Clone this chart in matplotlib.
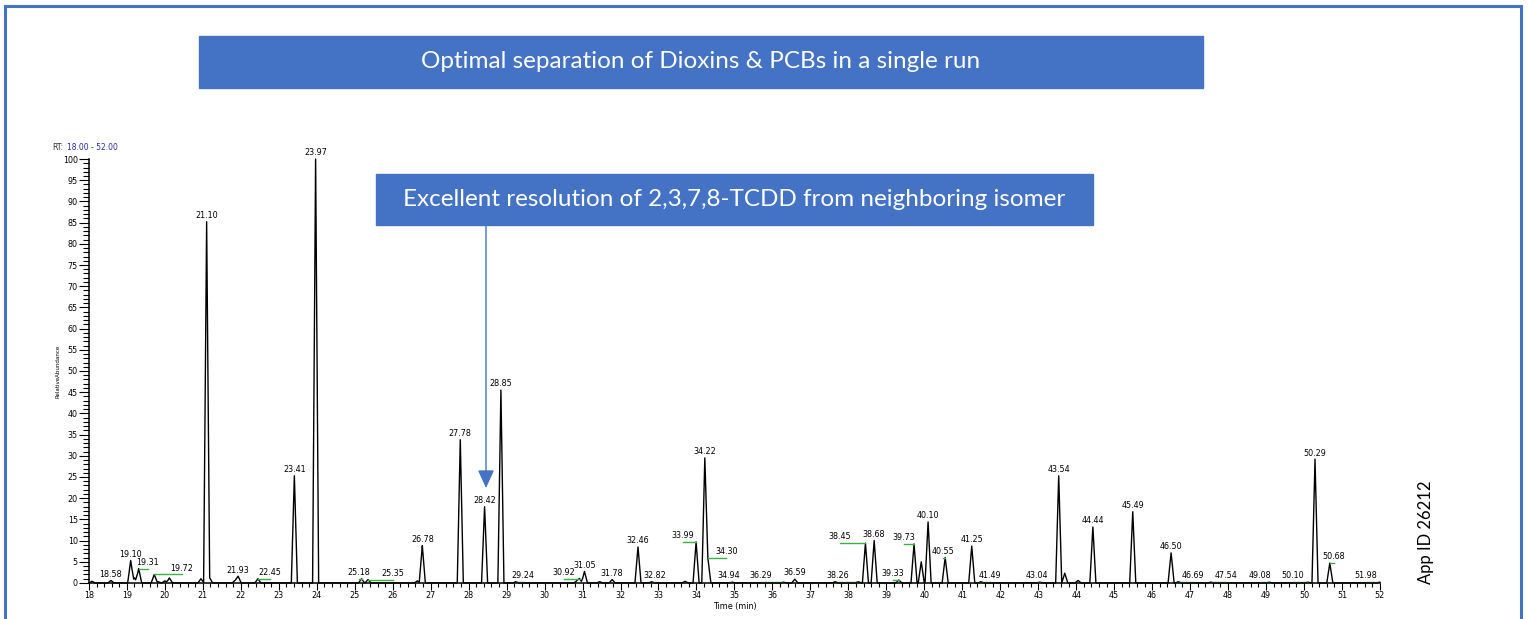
import numpy as np
import matplotlib
matplotlib.use("Agg")
import matplotlib.pyplot as plt
from matplotlib.patches import Rectangle
from matplotlib.ticker import MultipleLocator

# labelled peaks: retention time, relative abundance, x where the label sits
peak_rt = [18.58, 19.10, 19.31, 19.72, 21.10, 21.93, 22.45, 23.41, 23.97,
           25.18, 25.35, 26.78, 27.78, 28.42, 28.85, 29.24, 30.92, 31.05,
           31.78, 32.46, 32.82, 33.99, 34.22, 34.30, 34.94, 36.29, 36.59,
           38.26, 38.45, 38.68, 39.33, 39.73, 40.10, 40.55, 41.25, 41.49,
           43.04, 43.54, 44.44, 45.49, 46.50, 46.69, 47.54, 49.08, 50.10,
           50.29, 50.68, 51.98]
peak_h = [0.6, 5.3, 3.4, 2.0, 85.2, 1.6, 1.0, 25.3, 100.0,
          1.0, 0.8, 8.8, 33.8, 18.0, 45.5, 0.3, 1.0, 2.7,
          0.8, 8.5, 0.3, 9.7, 29.5, 5.9, 0.2, 0.2, 0.9,
          0.3, 9.4, 10.0, 0.7, 9.2, 14.4, 6.0, 8.7, 0.3,
          0.2, 25.3, 13.2, 16.8, 7.1, 0.3, 0.2, 0.2, 0.2,
          29.2, 4.7, 0.2]
label_x = [18.58, 19.10, 19.55, 20.44, 21.10, 21.91, 22.76, 23.41, 23.97,
           25.10, 26.00, 26.78, 27.78, 28.42, 28.85, 29.43, 30.51, 31.05,
           31.78, 32.46, 32.90, 33.64, 34.22, 34.79, 34.86, 35.70, 36.59,
           37.73, 37.78, 38.68, 39.17, 39.46, 40.10, 40.49, 41.25, 41.73,
           42.96, 43.54, 44.44, 45.49, 46.50, 47.08, 47.94, 48.84, 49.70,
           50.29, 50.79, 51.63]

# small unlabelled peaks
minor_rt = [18.08, 19.20, 19.82, 20.00, 20.12, 20.95, 21.18, 21.85, 26.65,
            30.85, 31.45, 33.70, 37.65, 39.92, 43.70, 44.05]
minor_h = [0.4, 1.2, 0.3, 0.5, 1.2, 1.0, 1.2, 0.6, 0.5,
           0.5, 0.3, 0.4, 0.3, 5.0, 2.3, 0.6]

blue = "#4472C4"
green = "#3cb043"

fig = plt.figure(figsize=(15.28, 6.19), dpi=100)
ax = fig.add_axes([0.0582, 0.0582, 0.8449, 0.6849])

# build the trace from the peak list
grid = np.linspace(18, 52, 6801)
trace = np.zeros_like(grid)
w = 0.08
for rt, h in zip(peak_rt + minor_rt, peak_h + minor_h):
    trace += np.interp(grid, [rt - w, rt, rt + w], [0, h, 0])
ax.plot(grid, trace, color="black", lw=1.0, clip_on=False)

# peak labels, with green leaders where the label is moved
for rt, h, lx in zip(peak_rt, peak_h, label_x):
    if abs(lx - rt) > 0.02:
        ax.plot([rt, lx], [h, h], color=green, lw=1.0, clip_on=False)
    ax.annotate(f"{rt:.2f}", (lx, h), xytext=(0, 1.2), textcoords="offset points",
                ha="center", va="bottom", fontsize=5.8, annotation_clip=False)

ax.set_xlim(18, 52)
ax.set_ylim(0, 100)
ax.xaxis.set_major_locator(MultipleLocator(1))
ax.xaxis.set_minor_locator(MultipleLocator(0.2))
ax.yaxis.set_major_locator(MultipleLocator(5))
ax.yaxis.set_minor_locator(MultipleLocator(1))
ax.tick_params(which="major", length=5, width=0.8, labelsize=5.8, pad=1)
ax.tick_params(which="minor", length=3, width=0.8)
ax.tick_params(axis="y", which="major", length=7)
ax.tick_params(axis="y", which="minor", length=4)
for s in ["top", "right"]:
    ax.spines[s].set_visible(False)
for s in ["left", "bottom"]:
    ax.spines[s].set_linewidth(1.1)
ax.set_xlabel("Time (min)", fontsize=5.8, labelpad=1)
ax.set_ylabel("RelativeAbundance", fontsize=4, labelpad=2)

fig.text(52 / 1528, 1 - 147 / 619, "RT:", fontsize=5.5, color="#333333", va="center")
fig.text(67 / 1528, 1 - 147 / 619, "18.00 - 52.00", fontsize=5.5, color="#2a2aa0", va="center")

# outer frame
fig.patches.append(Rectangle((5 / 1528, -0.05), 1516 / 1528, 1.05 - 6 / 619,
                             transform=fig.transFigure, fill=False,
                             edgecolor=blue, lw=2.2))

# title box
fig.patches.append(Rectangle((199 / 1528, 531 / 619), 1004 / 1528, 52 / 619,
                             transform=fig.transFigure, color=blue))
fig.text(701 / 1528, 1 - 62 / 619, "Optimal separation of Dioxins & PCBs in a single run",
         color="white", fontsize=17.5, family="Lato", ha="center", va="center")

# callout box and arrow
fig.patches.append(Rectangle((376 / 1528, 394 / 619), 717 / 1528, 51 / 619,
                             transform=fig.transFigure, color=blue))
fig.text(734 / 1528, 1 - 199 / 619, "Excellent resolution of 2,3,7,8-TCDD from neighboring isomer",
         color="white", fontsize=17.5, family="Lato", ha="center", va="center")
fig.add_artist(matplotlib.patches.FancyArrowPatch(
    (486 / 1528, 1 - 225 / 619), (486 / 1528, 1 - 488 / 619),
    transform=fig.transFigure, arrowstyle="-|>,head_width=5,head_length=11",
    color=blue, lw=1.0, mutation_scale=1, shrinkA=0, shrinkB=0))

fig.text(1426 / 1528, 1 - 532 / 619, "App ID 26212", rotation=90, fontsize=12,
         family="Lato", ha="center", va="center")

fig.savefig("out.png", dpi=100)
